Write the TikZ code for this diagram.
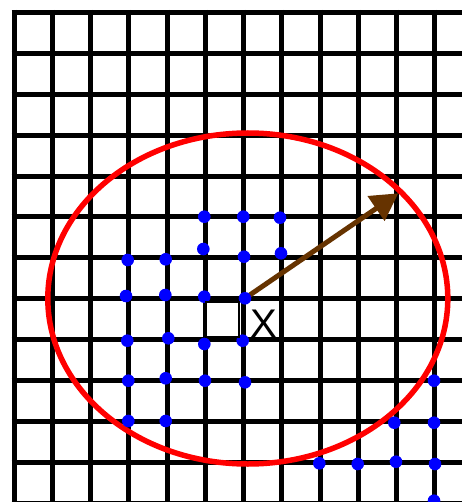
\documentclass[tikz,border=0pt]{standalone}
\usepackage{fontspec}
\setmainfont{Liberation Sans}
\usetikzlibrary{arrows.meta}
\definecolor{arrowbrown}{RGB}{102,51,0}
\begin{document}
\begin{tikzpicture}[x=1pt,y=-1pt,
  gridline/.style={line width=5pt,black},
  ring/.style={line width=5.5pt,red},
  pointer/.style={line width=5pt,arrowbrown,-{Triangle[length=27pt,width=29pt]}},
  bluedot/.style={circle,fill=blue,inner sep=0pt,minimum size=12.6pt},
  cellbox/.style={draw=black,line width=1.2pt,fill=white,inner sep=0pt,minimum width=33pt,minimum height=35pt},
  xtext/.style={font=\fontsize{40}{40}\selectfont,inner sep=0pt}
]
\useasboundingbox (0,0) rectangle (461,502);
\fill[white] (0,0) rectangle (461,502);
% grid
\foreach \i in {0,...,11}
  \draw[gridline] ({14+38.25*\i},10) -- ({14+38.25*\i},506);
\foreach \j in {0,...,12}
  \draw[gridline] (11.5,{12.5+40.9*\j}) -- (466,{12.5+40.9*\j});
% ellipse
\coordinate (ctr) at (247.8,298.5);
\draw[ring] (ctr) ellipse [x radius=200pt, y radius=165.5pt];
% arrow
\coordinate (origin) at (245,298.3);
\coordinate (tip) at (398.3,193.3);
\draw[pointer] (origin) -- (tip);
% dots
\foreach \px/\py [count=\k] in {
  204.3/216.7, 243.3/216.7, 280/217.7,
  203.3/249, 244/256.7, 281/253.3,
  127.7/260, 165.7/259.3,
  126/296, 165.3/295, 204.3/296.7,
  127.3/340.7, 168.3/338.3, 204.3/344, 242.7/340.7,
  128.3/380.7, 165.7/378.3, 205/380.7, 245/382.3,
  128.3/421, 165.7/421,
  434/380.7, 394.3/422.7, 434/422.7,
  319.3/463.3, 357.7/464, 396/461.7, 435/464,
  434/500.7}
  \node[bluedot] (d\k) at (\px,\py) {};
\node[bluedot] (xdot) at (origin) {};
% cell box and label
\node[cellbox] (cell) at (222.5,319.5) {};
\node[xtext] (xlab) at (263.5,323.5) {X};
\end{tikzpicture}
\end{document}
